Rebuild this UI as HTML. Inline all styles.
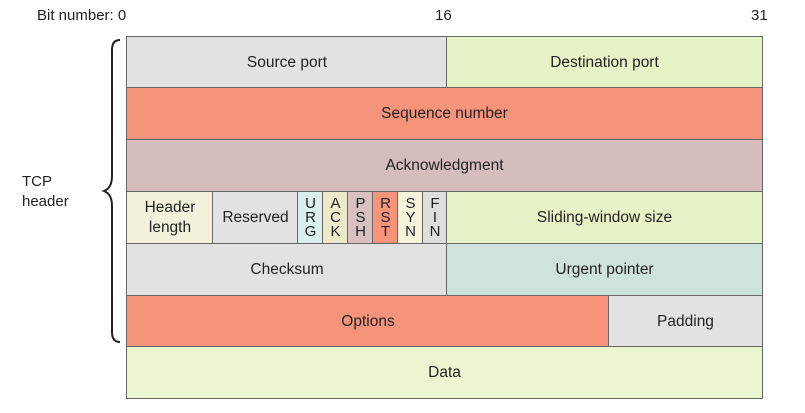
<!DOCTYPE html>
<html><head><meta charset="utf-8"><style>
body{margin:0;width:805px;height:413px;background:#fff;font-family:"Liberation Sans",Arial,sans-serif;color:#222;position:relative;overflow:hidden}
.c{position:absolute;box-sizing:border-box;border:1.5px solid #666;display:flex;align-items:center;justify-content:center;text-align:center;font-size:15.5px;line-height:20px}
.f{font-size:15px;line-height:14px;flex-direction:column}
.t{position:absolute;font-size:15px}
</style></head><body>
<div class="t" style="left:37px;top:7px">Bit number: 0</div>
<div class="t" style="left:435px;top:7px">16</div>
<div class="t" style="left:751px;top:7px">31</div>
<div class="t" style="left:22px;top:172px;line-height:20px">TCP<br>header</div>
<svg style="position:absolute;left:100px;top:36px" width="26" height="310"><path d="M20 4 Q12 4 12 14 L12 140 Q12 152 4 155 Q12 158 12 170 L12 296 Q12 306 20 306" fill="none" stroke="#222" stroke-width="2"/></svg>
<div class="c" style="left:126px;top:36px;width:322px;height:53px;background:#e2e2e2">Source port</div>
<div class="c" style="left:446px;top:36px;width:317px;height:53px;background:#e6f3c6">Destination port</div>
<div class="c" style="left:126px;top:87px;width:637px;height:54px;background:#f5947a">Sequence number</div>
<div class="c" style="left:126px;top:139px;width:637px;height:54px;background:#d5bcbd">Acknowledgment</div>
<div class="c" style="left:126px;top:191px;width:88px;height:54px;background:#f3f1dc">Header<br>length</div>
<div class="c" style="left:212px;top:191px;width:87px;height:54px;background:#e2e2e2">Reserved</div>
<div class="c f" style="left:297px;top:191px;width:27px;height:54px;background:#dceeee">U<br>R<br>G</div>
<div class="c f" style="left:322px;top:191px;width:27px;height:54px;background:#efe9cc">A<br>C<br>K</div>
<div class="c f" style="left:347px;top:191px;width:27px;height:54px;background:#d8bfc0">P<br>S<br>H</div>
<div class="c f" style="left:372px;top:191px;width:27px;height:54px;background:#f5947a">R<br>S<br>T</div>
<div class="c f" style="left:397px;top:191px;width:27px;height:54px;background:#f5f3dc">S<br>Y<br>N</div>
<div class="c f" style="left:422px;top:191px;width:26px;height:54px;background:#dedede">F<br>I<br>N</div>
<div class="c" style="left:446px;top:191px;width:317px;height:54px;background:#e6f3c6">Sliding-window size</div>
<div class="c" style="left:126px;top:243px;width:322px;height:54px;background:#e2e2e2">Checksum</div>
<div class="c" style="left:446px;top:243px;width:317px;height:54px;background:#cee3de">Urgent pointer</div>
<div class="c" style="left:126px;top:295px;width:484px;height:53px;background:#f5947a">Options</div>
<div class="c" style="left:608px;top:295px;width:155px;height:53px;background:#e2e2e2">Padding</div>
<div class="c" style="left:126px;top:346px;width:637px;height:53px;background:#ebf6d0">Data</div>
</body></html>
